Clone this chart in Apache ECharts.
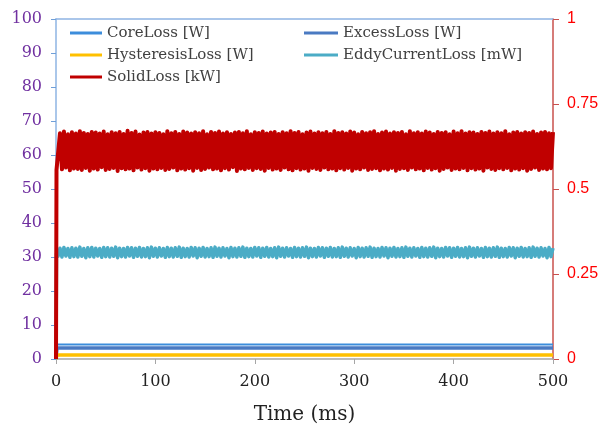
<!DOCTYPE html>
<html>
<head>
<meta charset="utf-8">
<script src="https://cdn.jsdelivr.net/npm/echarts@6/dist/echarts.min.js"></script>
<style>html,body{margin:0;padding:0;background:#fff}#c{width:602px;height:430px}</style>
</head>
<body>
<div id="c"></div>
<script>
// Time axis samples (ms)
var time = [
0,0.5,2,4,6,8,10,12,14,16,18,20,22,24,26,28,30,32,34,36,38,40,42,44,46,48,50,
52,54,56,58,60,62,64,66,68,70,72,74,76,78,80,82,84,86,88,90,92,94,96,98,100,
102,104,106,108,110,112,114,116,118,120,122,124,126,128,130,132,134,136,138,140,
142,144,146,148,150,152,154,156,158,160,162,164,166,168,170,172,174,176,178,180,
182,184,186,188,190,192,194,196,198,200,202,204,206,208,210,212,214,216,218,220,
222,224,226,228,230,232,234,236,238,240,242,244,246,248,250,252,254,256,258,260,
262,264,266,268,270,272,274,276,278,280,282,284,286,288,290,292,294,296,298,300,
302,304,306,308,310,312,314,316,318,320,322,324,326,328,330,332,334,336,338,340,
342,344,346,348,350,352,354,356,358,360,362,364,366,368,370,372,374,376,378,380,
382,384,386,388,390,392,394,396,398,400,402,404,406,408,410,412,414,416,418,420,
422,424,426,428,430,432,434,436,438,440,442,444,446,448,450,452,454,456,458,460,
462,464,466,468,470,472,474,476,478,480,482,484,486,488,490,492,494,496,498,500
];
var solidLoss = [
0, 0.556,
0.561,0.664,0.558,0.669,0.563,0.661,0.555,0.667,0.560,0.663,
0.559,0.670,0.556,0.665,0.562,0.662,0.554,0.668,0.560,0.666,
0.557,0.663,0.564,0.669,0.556,0.661,0.559,0.667,0.562,0.664,
0.553,0.668,0.561,0.662,0.558,0.671,0.560,0.665,0.555,0.669,
0.563,0.660,0.557,0.666,0.561,0.668,0.554,0.663,0.560,0.667,
0.558,0.665,0.562,0.661,0.556,0.670,0.559,0.664,0.563,0.668,
0.555,0.662,0.560,0.669,0.557,0.666,0.561,0.663,0.554,0.667,
0.562,0.664,0.556,0.670,0.559,0.661,0.563,0.668,0.558,0.665,
0.560,0.669,0.555,0.663,0.561,0.667,0.557,0.662,0.564,0.666,
0.553,0.668,0.560,0.664,0.558,0.670,0.562,0.661,0.556,0.667,
0.561,0.665,0.559,0.669,0.554,0.663,0.562,0.666,0.557,0.668,
0.560,0.662,0.556,0.667,0.563,0.664,0.558,0.670,0.555,0.665,
0.561,0.668,0.557,0.661,0.560,0.666,0.554,0.669,0.562,0.663,
0.559,0.667,0.556,0.664,0.563,0.668,0.558,0.662,0.560,0.670,
0.555,0.665,0.561,0.667,0.557,0.663,0.562,0.669,0.554,0.666,
0.560,0.661,0.558,0.668,0.563,0.664,0.556,0.667,0.559,0.670,
0.561,0.662,0.555,0.666,0.560,0.669,0.557,0.663,0.562,0.667,
0.554,0.665,0.559,0.668,0.561,0.661,0.556,0.670,0.563,0.664,
0.558,0.667,0.560,0.663,0.555,0.669,0.562,0.666,0.557,0.662,
0.561,0.668,0.554,0.665,0.559,0.667,0.563,0.661,0.556,0.669,
0.560,0.664,0.558,0.670,0.562,0.663,0.555,0.667,0.561,0.666,
0.557,0.662,0.560,0.668,0.554,0.665,0.563,0.669,0.559,0.663,
0.556,0.667,0.561,0.664,0.558,0.670,0.562,0.661,0.555,0.666,
0.560,0.668,0.557,0.663,0.561,0.667,0.554,0.665,0.559,0.669,
0.563,0.662,0.556,0.666,0.560,0.668,0.558,0.664,0.561,0.667
];
// EddyCurrentLoss [mW], band ~29.5..33
var eddyLoss = [
0, 31.0,
30.2,32.6,30.0,32.8,30.3,32.5,29.9,32.7,30.1,32.6,
30.0,32.9,30.2,32.5,29.8,32.7,30.1,32.8,30.0,32.6,
30.3,32.5,29.9,32.8,30.1,32.7,30.0,32.6,30.2,32.9,
29.8,32.6,30.1,32.5,30.0,32.8,30.3,32.7,29.9,32.6,
30.2,32.8,30.0,32.5,30.1,32.7,29.8,32.9,30.2,32.6,
30.0,32.7,30.3,32.5,29.9,32.8,30.1,32.6,30.0,32.7,
30.2,32.9,29.9,32.6,30.1,32.5,30.0,32.8,30.3,32.7,
29.8,32.6,30.2,32.8,30.0,32.5,30.1,32.7,29.9,32.9,
30.2,32.6,30.0,32.7,30.3,32.5,29.8,32.8,30.1,32.6,
30.0,32.7,30.2,32.9,29.9,32.6,30.1,32.5,30.0,32.8,
30.3,32.7,29.9,32.6,30.2,32.8,30.0,32.5,30.1,32.7,
29.8,32.9,30.2,32.6,30.0,32.7,30.3,32.5,29.9,32.8,
30.1,32.6,30.0,32.7,30.2,32.9,29.8,32.6,30.1,32.5,
30.0,32.8,30.3,32.7,29.9,32.6,30.2,32.8,30.0,32.5,
30.1,32.7,29.9,32.9,30.2,32.6,30.0,32.7,30.3,32.5,
29.8,32.8,30.1,32.6,30.0,32.7,30.2,32.9,29.9,32.6,
30.1,32.5,30.0,32.8,30.3,32.7,29.8,32.6,30.2,32.8,
30.0,32.5,30.1,32.7,29.9,32.9,30.2,32.6,30.0,32.7,
30.3,32.5,29.9,32.8,30.1,32.6,30.0,32.7,30.2,32.9,
29.8,32.6,30.1,32.5,30.0,32.8,30.3,32.7,29.9,32.6,
30.2,32.8,30.0,32.5,30.1,32.7,29.8,32.9,30.2,32.6,
30.0,32.7,30.3,32.5,29.9,32.8,30.1,32.6,30.0,32.7,
30.2,32.9,29.9,32.6,30.1,32.5,30.0,32.8,30.3,32.7,
29.8,32.6,30.2,32.8,30.0,32.5,30.1,32.7,29.9,32.9,
30.2,32.6,30.0,32.7,30.3,32.5,29.8,32.8,30.1,32.6
];
// Constant low losses
var lowTime = [0, 1, 500];
var coreLoss = [0, 4.3, 4.3];
var excessLoss = [0, 3.2, 3.2];
var hysteresisLoss = [0, 1.2, 1.2];

var xTicks = [0, 100, 200, 300, 400, 500];
var leftTicks = [0, 10, 20, 30, 40, 50, 60, 70, 80, 90, 100];
var rightTicks = [0, 0.25, 0.5, 0.75, 1];

function pairs(t, v) { return t.map(function (x, i) { return [x, v[i]]; }); }

var serif = 'DejaVu Serif';
var chart = echarts.init(document.getElementById('c'), null, { renderer: 'canvas' });
chart.setOption({
  animation: false,
  backgroundColor: '#ffffff',
  grid: { left: 56, right: 49, top: 19, bottom: 71, containLabel: false },
  legend: [
    {
      orient: 'vertical', left: 70, top: 25, padding: 0, itemWidth: 32, itemHeight: 3, itemGap: 6,
      icon: 'rect',
      textStyle: { fontFamily: serif, fontSize: 15, color: '#404040', lineHeight: 16 },
      data: ['CoreLoss [W]', 'HysteresisLoss [W]', 'SolidLoss [kW]']
    },
    {
      orient: 'vertical', left: 304, top: 25, padding: 0, itemWidth: 34, itemHeight: 3, itemGap: 6,
      icon: 'rect',
      textStyle: { fontFamily: serif, fontSize: 15, color: '#404040', lineHeight: 16 },
      data: ['ExcessLoss [W]', 'EddyCurrentLoss [mW]']
    }
  ],
  xAxis: [
    {
      type: 'value', min: 0, max: 500, interval: 100, position: 'bottom',
      name: 'Time (ms)', nameLocation: 'middle', nameGap: 46,
      nameTextStyle: { fontFamily: serif, fontSize: 20, color: '#222222' },
      axisLine: { onZero: false, lineStyle: { color: '#a6a6a6', width: 1.5 } },
      axisTick: { length: 5, lineStyle: { color: '#a6a6a6' } },
      axisLabel: { fontFamily: serif, fontSize: 16, color: '#222222', margin: 15 },
      splitLine: { show: false }
    },
    {
      type: 'value', min: 0, max: 500, position: 'top',
      axisLine: { show: true, onZero: false, lineStyle: { color: '#8eb4e3', width: 1.5 } },
      axisTick: { show: false }, axisLabel: { show: false }, splitLine: { show: false }
    }
  ],
  yAxis: [
    {
      type: 'value', min: 0, max: 100, interval: 10, position: 'left',
      axisLine: { show: true, onZero: false, lineStyle: { color: '#8eb4e3', width: 1.5 } },
      axisTick: { show: true, length: 5, lineStyle: { color: '#6f9fd8' } },
      axisLabel: { fontFamily: serif, fontSize: 16, color: '#7030a0', margin: 14 },
      splitLine: { show: false }
    },
    {
      type: 'value', min: 0, max: 1, interval: 0.25, position: 'right',
      axisLine: { show: true, onZero: false, lineStyle: { color: '#c9504d', width: 1.5 } },
      axisTick: { show: true, length: 6, lineStyle: { color: '#c9504d' } },
      axisLabel: { fontFamily: 'Liberation Sans', fontSize: 16, color: '#ff0000', margin: 14,
        formatter: function (v) { return String(v); } },
      splitLine: { show: false }
    }
  ],
  series: [
    { name: 'CoreLoss [W]', type: 'line', xAxisIndex: 0, yAxisIndex: 0, showSymbol: false,
      color: '#3c8ddb', lineStyle: { width: 2, color: '#3c8ddb' }, data: pairs(lowTime, coreLoss) },
    { name: 'ExcessLoss [W]', type: 'line', xAxisIndex: 0, yAxisIndex: 0, showSymbol: false,
      color: '#4a7ac2', lineStyle: { width: 3.5, color: '#4a7ac2' }, data: pairs(lowTime, excessLoss) },
    { name: 'HysteresisLoss [W]', type: 'line', xAxisIndex: 0, yAxisIndex: 0, showSymbol: false,
      color: '#ffc000', lineStyle: { width: 3.5, color: '#ffc000' }, data: pairs(lowTime, hysteresisLoss) },
    { name: 'EddyCurrentLoss [mW]', type: 'line', xAxisIndex: 0, yAxisIndex: 0, showSymbol: false,
      color: '#4bacc6', lineStyle: { width: 3.5, color: '#4bacc6', join: 'round' }, data: pairs(time, eddyLoss) },
    { name: 'SolidLoss [kW]', type: 'line', xAxisIndex: 0, yAxisIndex: 1, showSymbol: false,
      color: '#c00000', lineStyle: { width: 4, color: '#c00000', join: 'round' }, data: pairs(time, solidLoss) }
  ]
});
</script>
</body>
</html>
